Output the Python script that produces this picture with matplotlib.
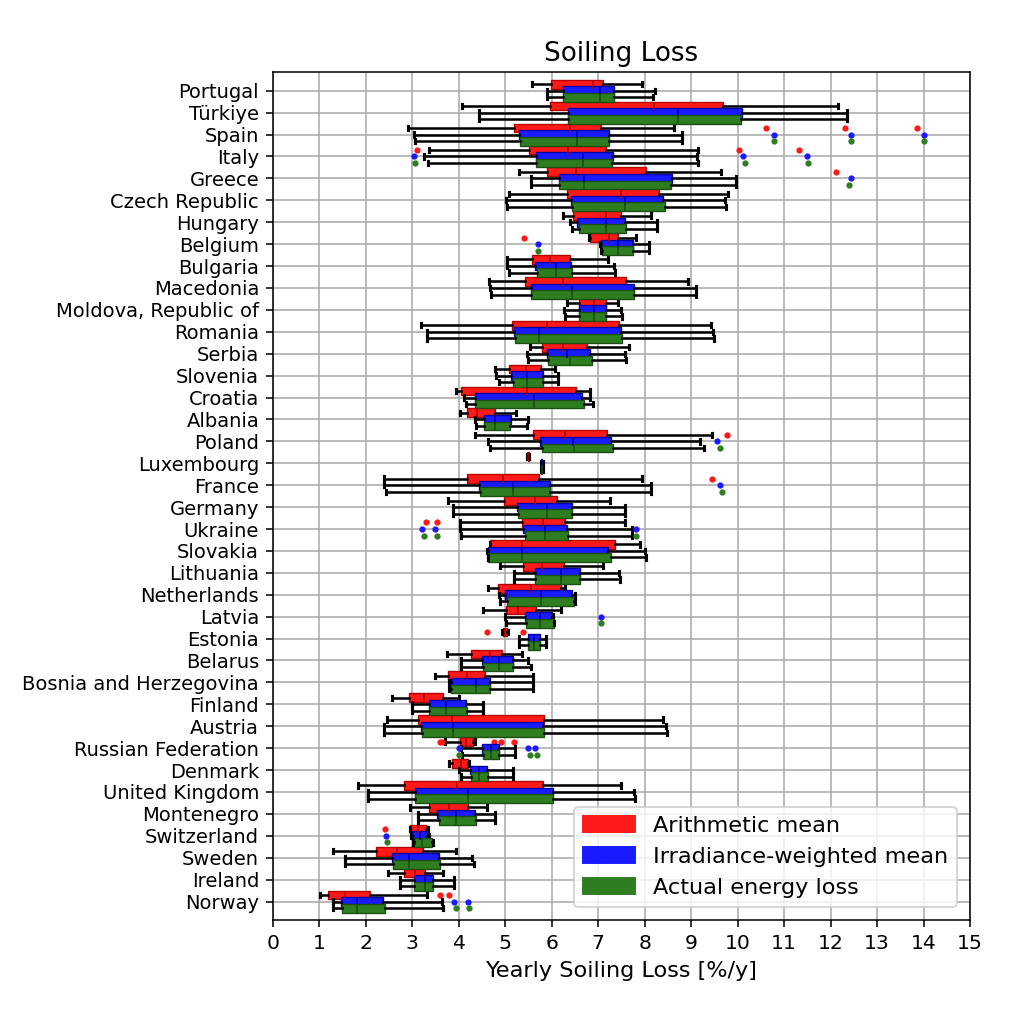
import matplotlib
matplotlib.use("Agg")
import matplotlib.pyplot as plt
from matplotlib.patches import Patch

# countries, top to bottom
countries = ["Portugal", "Türkiye", "Spain", "Italy", "Greece", "Czech Republic",
             "Hungary", "Belgium", "Bulgaria", "Macedonia", "Moldova, Republic of",
             "Romania", "Serbia", "Slovenia", "Croatia", "Albania", "Poland",
             "Luxembourg", "France", "Germany", "Ukraine", "Slovakia", "Lithuania",
             "Netherlands", "Latvia", "Estonia", "Belarus", "Bosnia and Herzegovina",
             "Finland", "Austria", "Russian Federation", "Denmark", "United Kingdom",
             "Montenegro", "Switzerland", "Sweden", "Ireland", "Norway"]

# (whisker low, q1, median, q3, whisker high) per country
arith = [(5.57, 5.98, 6.88, 7.10, 7.94), (4.07, 5.96, 8.21, 9.69, 12.16),
         (2.90, 5.20, 6.39, 7.06, 8.64), (3.36, 5.52, 6.36, 7.17, 9.15),
         (5.30, 5.89, 6.52, 8.04, 9.64), (5.08, 6.34, 7.50, 8.32, 9.79),
         (6.25, 6.46, 7.18, 7.49, 8.13), (6.80, 6.83, 7.23, 7.42, 7.82),
         (5.03, 5.57, 5.96, 6.40, 7.21), (4.66, 5.42, 6.24, 7.60, 8.93),
         (6.33, 6.59, 6.91, 7.17, 7.42), (3.20, 5.15, 5.91, 7.45, 9.43),
         (5.53, 5.79, 6.24, 6.76, 7.66), (4.78, 5.09, 5.45, 5.77, 6.07),
         (3.95, 4.06, 5.47, 6.52, 6.83), (4.02, 4.17, 4.39, 4.79, 5.23),
         (4.36, 5.60, 6.29, 7.20, 9.46), (5.48, 5.49, 5.50, 5.51, 5.52),
         (2.39, 4.19, 4.96, 5.73, 7.94), (3.77, 4.98, 5.65, 6.12, 7.25),
         (4.02, 5.37, 5.81, 6.29, 7.57), (4.68, 4.68, 5.37, 7.37, 7.90),
         (4.89, 5.38, 5.79, 6.27, 7.11), (4.63, 4.84, 5.55, 6.21, 6.29),
         (4.53, 5.02, 5.27, 5.67, 6.21), (4.94, 4.95, 5.00, 5.05, 5.06),
         (3.76, 4.26, 4.67, 4.94, 5.37), (3.50, 3.77, 4.17, 4.57, 5.59),
         (2.57, 2.93, 3.25, 3.66, 4.01), (2.46, 3.13, 3.86, 5.84, 8.39),
         (3.70, 4.02, 4.15, 4.31, 4.35), (3.79, 3.86, 4.04, 4.21, 4.23),
         (1.83, 2.82, 3.97, 5.81, 7.50), (2.96, 3.36, 3.79, 4.20, 4.60),
         (2.95, 2.96, 3.13, 3.30, 3.35), (1.30, 2.22, 2.67, 3.24, 3.94),
         (2.47, 2.82, 3.06, 3.28, 3.67), (1.01, 1.18, 1.55, 2.09, 3.31)]

irrad = [(5.91, 6.25, 7.05, 7.35, 8.23), (4.43, 6.36, 8.71, 10.09, 12.36),
         (3.04, 5.29, 6.55, 7.23, 8.81), (3.26, 5.66, 6.68, 7.32, 9.13),
         (5.56, 6.16, 6.69, 8.59, 9.96), (5.02, 6.41, 7.57, 8.40, 9.74),
         (6.39, 6.55, 7.18, 7.57, 8.27), (7.04, 7.06, 7.42, 7.74, 8.09),
         (5.05, 5.65, 6.09, 6.41, 7.34), (4.67, 5.55, 6.44, 7.77, 9.10),
         (6.26, 6.59, 6.91, 7.18, 7.50), (3.31, 5.19, 5.73, 7.50, 9.47),
         (5.47, 5.89, 6.34, 6.83, 7.57), (4.80, 5.12, 5.48, 5.81, 6.14),
         (4.11, 4.36, 5.62, 6.66, 6.83), (4.36, 4.54, 4.78, 5.12, 5.50),
         (4.64, 5.75, 6.47, 7.28, 9.20), (5.77, 5.78, 5.79, 5.80, 5.81),
         (2.39, 4.43, 5.17, 5.96, 8.13), (3.87, 5.25, 5.89, 6.44, 7.57),
         (4.02, 5.38, 5.85, 6.34, 7.72), (4.62, 4.64, 5.37, 7.21, 8.00),
         (5.18, 5.65, 6.21, 6.60, 7.44), (4.86, 5.00, 5.77, 6.44, 6.51),
         (5.00, 5.43, 5.75, 6.01, 6.04), (5.30, 5.50, 5.62, 5.75, 5.88),
         (4.06, 4.50, 4.87, 5.17, 5.50), (3.79, 3.83, 4.37, 4.67, 5.60),
         (2.99, 3.36, 3.73, 4.15, 4.53), (2.39, 3.18, 3.88, 5.82, 8.46),
         (4.06, 4.51, 4.69, 4.87, 5.22), (4.01, 4.24, 4.44, 4.62, 5.16),
         (2.06, 3.06, 4.21, 6.04, 7.77), (3.13, 3.54, 3.95, 4.35, 4.78),
         (2.98, 3.00, 3.16, 3.32, 3.36), (1.55, 2.57, 2.93, 3.57, 4.29),
         (2.73, 3.03, 3.28, 3.45, 3.90), (1.30, 1.47, 1.82, 2.37, 3.65)]

actual = [(5.91, 6.25, 7.05, 7.35, 8.19), (4.43, 6.36, 8.71, 10.07, 12.36),
          (3.06, 5.33, 6.55, 7.23, 8.81), (3.33, 5.66, 6.68, 7.30, 9.15),
          (5.56, 6.16, 6.69, 8.57, 9.96), (5.04, 6.44, 7.57, 8.43, 9.76),
          (6.43, 6.58, 7.18, 7.60, 8.27), (7.06, 7.08, 7.42, 7.74, 8.09),
          (5.08, 5.68, 6.09, 6.44, 7.37), (4.70, 5.56, 6.44, 7.77, 9.10),
          (6.29, 6.59, 6.91, 7.18, 7.52), (3.31, 5.22, 5.73, 7.52, 9.50),
          (5.50, 5.92, 6.39, 6.86, 7.60), (4.86, 5.16, 5.48, 5.82, 6.14),
          (4.15, 4.36, 5.62, 6.69, 6.88), (4.38, 4.54, 4.78, 5.10, 5.47),
          (4.67, 5.80, 6.49, 7.31, 9.27), (5.77, 5.78, 5.79, 5.80, 5.81),
          (2.44, 4.46, 5.17, 5.96, 8.13), (3.87, 5.28, 5.89, 6.44, 7.57),
          (4.05, 5.42, 5.85, 6.36, 7.72), (4.64, 4.64, 5.37, 7.28, 8.02),
          (5.20, 5.65, 6.21, 6.60, 7.47), (4.88, 5.05, 5.77, 6.49, 6.51),
          (5.02, 5.45, 5.75, 6.06, 6.06), (5.30, 5.50, 5.62, 5.75, 5.88),
          (4.06, 4.52, 4.87, 5.17, 5.55), (3.79, 3.83, 4.37, 4.67, 5.60),
          (3.00, 3.36, 3.73, 4.17, 4.53), (2.39, 3.21, 3.88, 5.84, 8.49),
          (4.08, 4.53, 4.69, 4.87, 5.22), (4.06, 4.26, 4.44, 4.64, 5.16),
          (2.06, 3.06, 4.21, 6.04, 7.79), (3.13, 3.57, 3.95, 4.38, 4.78),
          (3.02, 3.04, 3.22, 3.42, 3.44), (1.55, 2.59, 2.93, 3.60, 4.33),
          (2.73, 3.03, 3.28, 3.45, 3.90), (1.30, 1.50, 1.82, 2.41, 3.67)]

# outliers
arith_fliers = {"Spain": [10.61, 12.32, 13.87], "Italy": [3.10, 10.04, 11.32],
                "Greece": [12.12], "Belgium": [5.40], "Poland": [9.77],
                "France": [9.45], "Ukraine": [3.30, 3.54], "Estonia": [4.60, 5.39],
                "Russian Federation": [3.60, 3.65, 4.76, 4.91, 5.19],
                "Switzerland": [2.42], "Norway": [3.59, 3.79]}
irrad_fliers = {"Spain": [10.78, 12.45, 14.02], "Italy": [3.03, 10.12, 11.49],
                "Greece": [12.45], "Belgium": [5.70], "Poland": [9.55],
                "France": [9.62], "Ukraine": [3.21, 3.50, 7.82], "Latvia": [7.06],
                "Russian Federation": [4.00, 5.50, 5.64],
                "Switzerland": [2.44], "Norway": [3.89, 4.20]}
actual_fliers = {"Spain": [10.78, 12.45, 14.02], "Italy": [3.07, 10.16, 11.52],
                 "Greece": [12.39], "Belgium": [5.70], "Poland": [9.63],
                 "France": [9.66], "Ukraine": [3.26, 3.53, 7.82], "Latvia": [7.06],
                 "Russian Federation": [4.01, 5.53, 5.68],
                 "Switzerland": [2.46], "Norway": [3.94, 4.22]}

series = [
    ("Arithmetic mean", arith, arith_fliers, "#ff1a1a", "#b00000", -0.3),
    ("Irradiance-weighted mean", irrad, irrad_fliers, "#1a1aff", "#0000a0", 0.0),
    ("Actual energy loss", actual, actual_fliers, "#2e7d20", "#1a5010", 0.3),
]

fig = plt.figure(figsize=(1033 / 140, 1033 / 140), dpi=140)
ax = fig.add_axes([0.264, 0.109, 0.675, 0.821])
ax.grid(True, color="#a8a8a8", linewidth=0.8, zorder=0)
ax.set_axisbelow(True)

handles = []
for label, stats, fliers, face, edge, off in series:
    bstats = []
    for name, (lo, q1, med, q3, hi) in zip(countries, stats):
        bstats.append(dict(whislo=lo, q1=q1, med=med, q3=q3, whishi=hi,
                           fliers=fliers.get(name, [])))
    positions = [i + off for i in range(len(countries))]
    ax.bxp(bstats, positions=positions, widths=0.4, capwidths=0.2,
           orientation="horizontal", patch_artist=True, manage_ticks=False,
           boxprops=dict(facecolor=face, edgecolor=edge, linewidth=0.7),
           medianprops=dict(color=edge, linewidth=0.8),
           whiskerprops=dict(color="black", linewidth=1.3),
           capprops=dict(color="black", linewidth=1.6),
           flierprops=dict(marker="o", markerfacecolor=face, markeredgecolor=face,
                           markersize=2.2, linestyle="none"))
    handles.append(Patch(facecolor=face, edgecolor=face, label=label))

ax.set_yticks(range(len(countries)))
ax.set_yticklabels(countries)
ax.set_ylim(len(countries) - 1 + 0.86, -0.84)
ax.set_xlim(0, 15)
ax.set_xticks(range(16))
ax.tick_params(axis="x", labelsize=10.5)
ax.set_xlabel("Yearly Soiling Loss [%/y]", fontsize=11.5)
ax.set_title("Soiling Loss", fontsize=13.5)
ax.legend(handles=handles, loc="lower right", fontsize=11.5, handlelength=2.3,
          borderaxespad=0.6)

fig.savefig("out.png", dpi=140)
